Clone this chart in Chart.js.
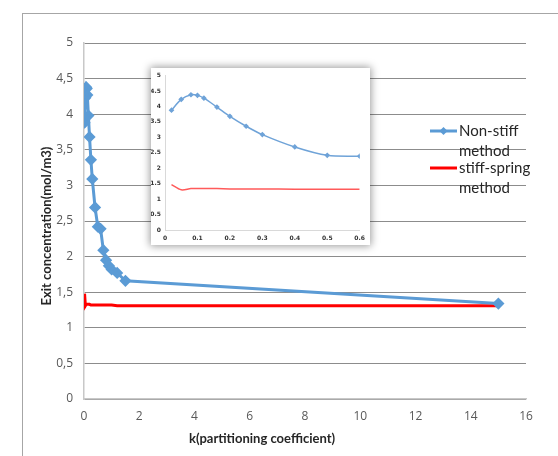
<!DOCTYPE html>
<html>
<head>
<meta charset="utf-8">
<script src="https://cdn.jsdelivr.net/npm/chart.js@4.4.1/dist/chart.umd.min.js"></script>
<style>
html, body { margin: 0; padding: 0; background: #fff; }
#wrap { position: relative; width: 558px; height: 456px; overflow: hidden; }
#frame { position: absolute; left: 22px; top: 13px; width: 600px; height: 500px; border-left: 1px solid #a6a6a6; border-top: 1px solid #a6a6a6; }
#main { position: absolute; left: 0; top: 0; }
#inset { position: absolute; left: 151px; top: 68px; width: 219px; height: 177px; background: #fff; box-shadow: 0 0 8px 1px rgba(0,0,0,0.4); }
</style>
</head>
<body>
<div id="wrap">
  <div id="frame"></div>
  <canvas id="main" width="558" height="456"></canvas>
  <div id="inset"><canvas id="insetChart" width="219" height="177"></canvas></div>
</div>
<script>
// main chart data (k, exit concentration)
const kMain = [0.02, 0.05, 0.08, 0.1, 0.12, 0.16, 0.2, 0.25, 0.3, 0.4, 0.5, 0.6, 0.7, 0.8, 0.9, 1.0, 1.2, 1.5, 15];
const nonStiff = [3.88, 4.23, 4.38, 4.36, 4.27, 3.98, 3.68, 3.36, 3.09, 2.69, 2.42, 2.39, 2.09, 1.95, 1.87, 1.82, 1.77, 1.66, 1.34];
const stiffSpring = [1.48, 1.31, 1.33, 1.33, 1.33, 1.33, 1.33, 1.32, 1.32, 1.32, 1.32, 1.32, 1.32, 1.32, 1.32, 1.32, 1.31, 1.31, 1.31];

// inset chart data (zoom on k <= 0.6)
const kInset = [0.02, 0.05, 0.08, 0.1, 0.12, 0.16, 0.2, 0.25, 0.3, 0.4, 0.5, 0.6];
const nonStiffInset = [3.88, 4.23, 4.38, 4.36, 4.27, 3.98, 3.68, 3.36, 3.09, 2.69, 2.42, 2.39];
const stiffInset = [1.47, 1.30, 1.34, 1.34, 1.34, 1.34, 1.33, 1.33, 1.33, 1.32, 1.32, 1.32];

const legendLabels = [['Non-stiff', 'method'], ['stiff-spring', 'method']];
const xTitle = 'k(partitioning coefficient)';
const yTitle = 'Exit concentration(mol/m3)';

const pts = (xs, ys) => xs.map((x, i) => ({x: x, y: ys[i]}));

const BLUE = '#5b9bd5';
const RED = '#ff0000';

// titles + legend drawn on top of the plot, the way the Excel chart has them
const overlay = {
  id: 'overlay',
  afterDraw(chart) {
    const ctx = chart.ctx;
    ctx.save();
    ctx.fillStyle = '#262626';
    ctx.font = 'bold 13px Lato';
    ctx.textAlign = 'center';
    ctx.textBaseline = 'middle';
    ctx.fillText(xTitle, 262, 439);
    ctx.translate(47, 226);
    ctx.rotate(-Math.PI / 2);
    ctx.fillText(yTitle, 0, 0);
    ctx.restore();

    ctx.save();
    const colors = [BLUE, RED];
    const tops = [131, 168];
    ctx.font = '15px Lato';
    ctx.textBaseline = 'middle';
    ctx.textAlign = 'left';
    legendLabels.forEach((lines, i) => {
      const y = tops[i];
      ctx.strokeStyle = colors[i];
      ctx.lineWidth = 3;
      ctx.beginPath();
      ctx.moveTo(430, y);
      ctx.lineTo(457, y);
      ctx.stroke();
      if (i === 0) {
        ctx.fillStyle = BLUE;
        ctx.beginPath();
        ctx.moveTo(443.5, y - 4); ctx.lineTo(447.5, y); ctx.lineTo(443.5, y + 4); ctx.lineTo(439.5, y);
        ctx.closePath();
        ctx.fill();
      }
      ctx.fillStyle = '#262626';
      lines.forEach((t, j) => ctx.fillText(t, 459, y + j * 20));
    });
    ctx.restore();
  }
};

new Chart(document.getElementById('main'), {
  type: 'line',
  data: {
    datasets: [{
      label: 'Non-stiff method',
      data: pts(kMain, nonStiff),
      borderColor: BLUE,
      backgroundColor: BLUE,
      borderWidth: 3,
      pointStyle: 'rectRot',
      pointRadius: 4,
      tension: 0,
      order: 0
    }, {
      label: 'stiff-spring method',
      data: pts(kMain, stiffSpring),
      borderColor: RED,
      borderWidth: 3,
      pointRadius: 0,
      tension: 0,
      order: 1
    }]
  },
  options: {
    responsive: false,
    animation: false,
    devicePixelRatio: 1,
    layout: { padding: { left: 0, top: 43, right: 32, bottom: 0 } },
    plugins: { legend: { display: false }, tooltip: { enabled: false } },
    scales: {
      x: {
        type: 'linear',
        min: 0, max: 16,
        grid: { display: false, drawTicks: false },
        border: { color: '#c8c8c8', width: 1.5 },
        ticks: { stepSize: 2, padding: 10, color: '#595959', font: { family: 'Open Sans', size: 12 }, maxRotation: 0 },
        afterFit: s => { s.height = 57; }
      },
      y: {
        min: 0, max: 5,
        grid: { color: '#8c8c8c', drawTicks: false },
        border: { color: '#c8c8c8', width: 1.5 },
        ticks: {
          stepSize: 0.5, padding: 11, color: '#595959',
          font: { family: 'Open Sans', size: 12 },
          callback: v => String(v).replace('.', ',')
        },
        afterFit: s => { s.width = 84; }
      }
    }
  },
  plugins: [overlay]
});

new Chart(document.getElementById('insetChart'), {
  type: 'line',
  data: {
    datasets: [{
      data: pts(kInset, nonStiffInset),
      borderColor: '#6fa3d8',
      backgroundColor: '#6fa3d8',
      borderWidth: 1.5,
      pointStyle: 'rectRot',
      pointRadius: 1.8,
      tension: 0.3
    }, {
      data: pts(kInset, stiffInset),
      borderColor: '#ff5a5a',
      borderWidth: 1.5,
      pointRadius: 0,
      tension: 0.3
    }]
  },
  options: {
    responsive: false,
    animation: false,
    devicePixelRatio: 1,
    layout: { padding: { left: 0, top: 6, right: 5, bottom: 0 } },
    plugins: { legend: { display: false }, tooltip: { enabled: false } },
    scales: {
      x: {
        type: 'linear',
        min: 0, max: 0.6,
        grid: { display: false, drawTicks: false },
        border: { color: '#d9d9d9' },
        ticks: { stepSize: 0.1, padding: 5, color: '#333', font: { family: 'DejaVu Sans', size: 6, weight: 'bold' }, maxRotation: 0,
          callback: v => String(Math.round(v * 10) / 10) },
        afterFit: s => { s.height = 15; }
      },
      y: {
        min: 0, max: 5,
        grid: { display: false, drawTicks: false },
        border: { color: '#d9d9d9' },
        ticks: { stepSize: 0.5, padding: 4, color: '#333', font: { family: 'DejaVu Sans', size: 6, weight: 'bold' },
          callback: v => String(v) },
        afterFit: s => { s.width = 14; }
      }
    }
  }
});
</script>
</body>
</html>
